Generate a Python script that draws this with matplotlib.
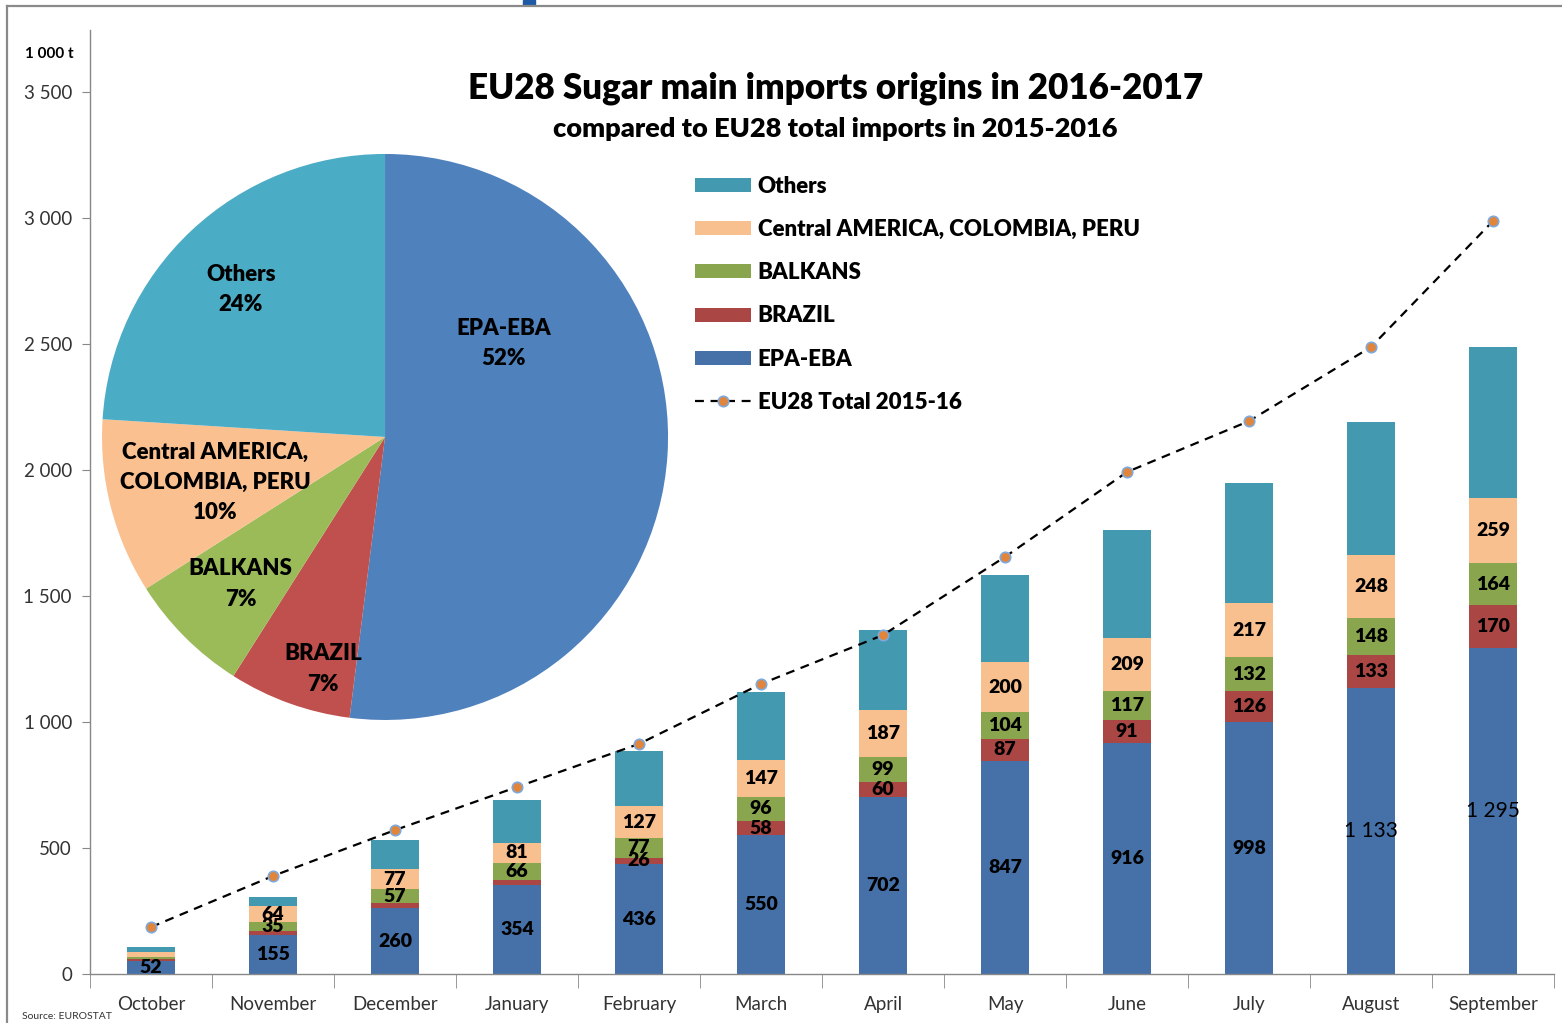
import matplotlib
matplotlib.use("Agg")
import matplotlib.pyplot as plt
import numpy as np
from matplotlib.lines import Line2D
from matplotlib.patches import Rectangle

plt.rcParams['font.family'] = ['Lato', 'DejaVu Sans']

# data (1 000 t)
months = ['October', 'November', 'December', 'January', 'February', 'March',
          'April', 'May', 'June', 'July', 'August', 'September']
epa_eba = [52, 155, 260, 354, 436, 550, 702, 847, 916, 998, 1133, 1295]
brazil = [8, 15, 21, 20, 26, 58, 60, 87, 91, 126, 133, 170]
balkans = [8, 35, 57, 66, 77, 96, 99, 104, 117, 132, 148, 164]
central = [20, 64, 77, 81, 127, 147, 187, 200, 209, 217, 248, 259]
others = [20, 38, 117, 169, 219, 268, 317, 345, 429, 475, 528, 600]
total_2015_16 = [186, 389, 571, 742, 913, 1151, 1345, 1655, 1992, 2194, 2488, 2988]

# which months get a data label, per series
label_from = {'EPA-EBA': 0, 'BRAZIL': 4, 'BALKANS': 1,
              'Central AMERICA, COLOMBIA, PERU': 1}

pie_labels = ['EPA-EBA\n52%', 'BRAZIL\n7%', 'BALKANS\n7%',
              'Central AMERICA,\nCOLOMBIA, PERU\n10%', 'Others\n24%']
pie_shares = [52, 7, 7, 10, 24]

bar_colors = ['#4571A8', '#AA4744', '#89A54E', '#F9C08F', '#4399AF']
pie_colors = ['#4F81BD', '#C0504D', '#9BBB59', '#FAC090', '#4BACC6']

fig = plt.figure(figsize=(15.62, 10.23), dpi=100)
ax = fig.add_axes([0.0576, 0.0479, 0.9373, 0.9228])

x = np.arange(len(months))
series = [('EPA-EBA', epa_eba), ('BRAZIL', brazil), ('BALKANS', balkans),
          ('Central AMERICA, COLOMBIA, PERU', central), ('Others', others)]
bottom = np.zeros(len(months))
handles = {}
for (name, vals), col in zip(series, bar_colors):
    vals = np.array(vals)
    b = ax.bar(x, vals, 0.4, bottom=bottom, color=col, zorder=2)
    handles[name] = b
    if name in label_from:
        for i in range(label_from[name], len(months)):
            big = vals[i] >= 1000
            ax.text(x[i], bottom[i] + vals[i] / 2, f"{vals[i]:,}".replace(",", " "),
                    ha='center', va='center', fontsize=15 if big else 14,
                    fontweight='normal' if big else 'heavy', color='black', zorder=4)
    bottom = bottom + vals

line, = ax.plot(x, total_2015_16, color='black', linestyle=(0, (4, 3)), linewidth=1.6,
                marker='o', markersize=7.5, markerfacecolor='#E0853A',
                markeredgecolor='#7FA8DC', markeredgewidth=1.2, zorder=3)

ax.set_xlim(-0.5, len(months) - 0.5)
ax.set_ylim(0, 3746)
ax.set_yticks(np.arange(0, 3501, 500))
ax.set_yticklabels([f"{v:,}".replace(",", " ") for v in range(0, 3501, 500)])
ax.set_xticks(x)
ax.set_xticklabels(months)
ax.set_xticks(np.arange(-0.5, len(months), 1), minor=True)
ax.tick_params(axis='x', which='major', length=0, labelsize=13.5, pad=16, colors='#333333')
ax.tick_params(axis='x', which='minor', length=10, color='#888888')
ax.tick_params(axis='y', length=6, color='#888888', labelsize=13.5, labelcolor='#333333', pad=7)
for s in ['top', 'right']:
    ax.spines[s].set_visible(False)
for s in ['left', 'bottom']:
    ax.spines[s].set_color('#888888')
    ax.spines[s].set_linewidth(1.0)

order = ['Others', 'Central AMERICA, COLOMBIA, PERU', 'BALKANS', 'BRAZIL', 'EPA-EBA']
leg = ax.legend([handles[n] for n in order] + [line], order + ['EU28 Total 2015-16'],
                loc='upper left', bbox_to_anchor=(0.4075, 0.855), frameon=False,
                prop={'weight': 'heavy', 'size': 16}, handlelength=2.5, handleheight=0.6,
                labelspacing=1.0, handletextpad=0.3, borderaxespad=0)

fig.text(0.535, 0.914, 'EU28 Sugar main imports origins in 2016-2017', ha='center',
         va='center', fontsize=25.2, fontweight='heavy')
fig.text(0.535, 0.874, 'compared to EU28 total imports in 2015-2016', ha='center',
         va='center', fontsize=19.5, fontweight='heavy')
fig.text(0.016, 0.947, '1 000 t', fontsize=11, fontweight='bold', va='center')
fig.text(0.014, 0.006, 'Source: EUROSTAT', fontsize=7.5, va='center', color='#333333')

# pie inset
pax = fig.add_axes([0.0653, 0.2962, 0.3624, 0.5533])
wedges, _ = pax.pie(pie_shares, colors=pie_colors, startangle=90, counterclock=False,
                    wedgeprops={'linewidth': 0})
pax.set_xlim(-1, 1)
pax.set_ylim(-1, 1)
pax.set_aspect('equal')
pax.axis('off')
label_pos = [(0.42, 0.33), (-0.22, -0.82), (-0.51, -0.52), (-0.6, -0.16), (-0.51, 0.52)]
for lab, (lx, ly) in zip(pie_labels, label_pos):
    pax.text(lx, ly, lab, ha='center', va='center', fontsize=16, fontweight='heavy',
             linespacing=1.55)

# frame and mark
fig.add_artist(Line2D([7 / 1562, 1], [1 - 6 / 1023, 1 - 6 / 1023], color='#8a8a8a', linewidth=1.6))
fig.add_artist(Line2D([7 / 1562, 7 / 1562], [0, 1 - 6 / 1023], color='#8a8a8a', linewidth=1.6))
fig.add_artist(Rectangle((523 / 1562, 1 - 5 / 1023), 12 / 1562, 5 / 1023,
                         transform=fig.transFigure, color='#1F5AA6'))

fig.savefig('out.png', dpi=100)
